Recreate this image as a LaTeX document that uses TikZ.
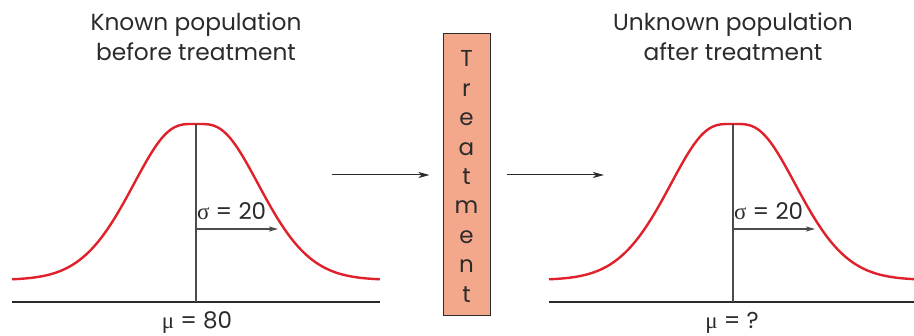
\documentclass[tikz,border=0pt]{standalone}
\usepackage{fontspec}
\setmainfont{Poppins}
\newfontfamily\grk{Liberation Serif}
\usetikzlibrary{arrows.meta}
\definecolor{bellred}{HTML}{E0202A}
\definecolor{boxfill}{HTML}{F3A88B}
\definecolor{ink}{HTML}{2B2B2B}
\begin{document}
\begin{tikzpicture}[x=1pt,y=-1pt,
  bellline/.style={draw=bellred, line width=2.4pt},
  axisline/.style={draw=ink, line width=1.3pt},
  meanline/.style={draw=ink!85, line width=1.3pt},
  flowarrow/.style={draw=ink, line width=1pt, -{Stealth[length=11pt,width=6pt,inset=3pt]}},
  sdarrow/.style={draw=ink!85, line width=1.1pt, -{Stealth[length=9pt,width=5pt,inset=2pt]}},
  title/.style={font=\fontsize{23.3}{30}\selectfont, text=ink, inner sep=0pt, anchor=base},
  lab/.style={font=\fontsize{23}{24}\selectfont, text=ink, inner sep=0pt},
  treatbox/.style={draw=ink, line width=1pt, fill=boxfill, minimum width=47pt, minimum height=282pt, inner sep=0pt},
  treattext/.style={inner sep=0pt, align=center, text=ink, font=\fontsize{23}{29.4}\selectfont},
  bell/.pic={\draw[bellline] plot[domain=-1.84:1.84, samples=121, smooth]
     ({100*\x}, {-156*exp(-1.65*(\x*\x)*(\x*\x)/(\x*\x+0.12))});}
]
\useasboundingbox (0,0) rectangle (914,336);
% titles
\node[title] (tL1) at (196,31) {Known population};
\node[title] (tL2) at (196,61) {before treatment};
\node[title] (tR1) at (733,31) {Unknown population};
\node[title] (tR2) at (733,61) {after treatment};
% left distribution
\draw[axisline] (12,302) -- (380,302);
\pic (bellL) at (196,280) {bell};
\coordinate (peakL) at (196,124);
\coordinate (meanL) at (196,302);
\draw[meanline] (peakL) -- (meanL);
\coordinate (sdL0) at (196,229);
\coordinate (sdL1) at (278,229);
\draw[sdarrow] (sdL0) -- (sdL1);
\node[lab, anchor=base west] (sdlabL) at (197,220) {{\grk σ} = 20};
\node[lab, anchor=base] (mulabL) at (197,329) {{\grk μ} = 80};
% treatment box
\node[treatbox] (box) at (466.5,175) {};
\node[treattext] (boxtext) at (466.5,176.5) {T\\r\\e\\a\\t\\m\\e\\n\\t};
\coordinate (inL) at (332,175);
\coordinate (outR) at (604,175);
\draw[flowarrow] (inL) -- ([xshift=-13pt]box.west);
\draw[flowarrow] ([xshift=16pt]box.east) -- (outR);
% right distribution
\draw[axisline] (549,302) -- (914,302);
\pic (bellR) at (733,280) {bell};
\coordinate (peakR) at (733,124);
\coordinate (meanR) at (733,302);
\draw[meanline] (peakR) -- (meanR);
\coordinate (sdR0) at (733,229);
\coordinate (sdR1) at (815,229);
\draw[sdarrow] (sdR0) -- (sdR1);
\node[lab, anchor=base west] (sdlabR) at (734,220) {{\grk σ} = 20};
\node[lab, anchor=base] (mulabR) at (732,329) {{\grk μ} = ?};
\end{tikzpicture}
\end{document}
